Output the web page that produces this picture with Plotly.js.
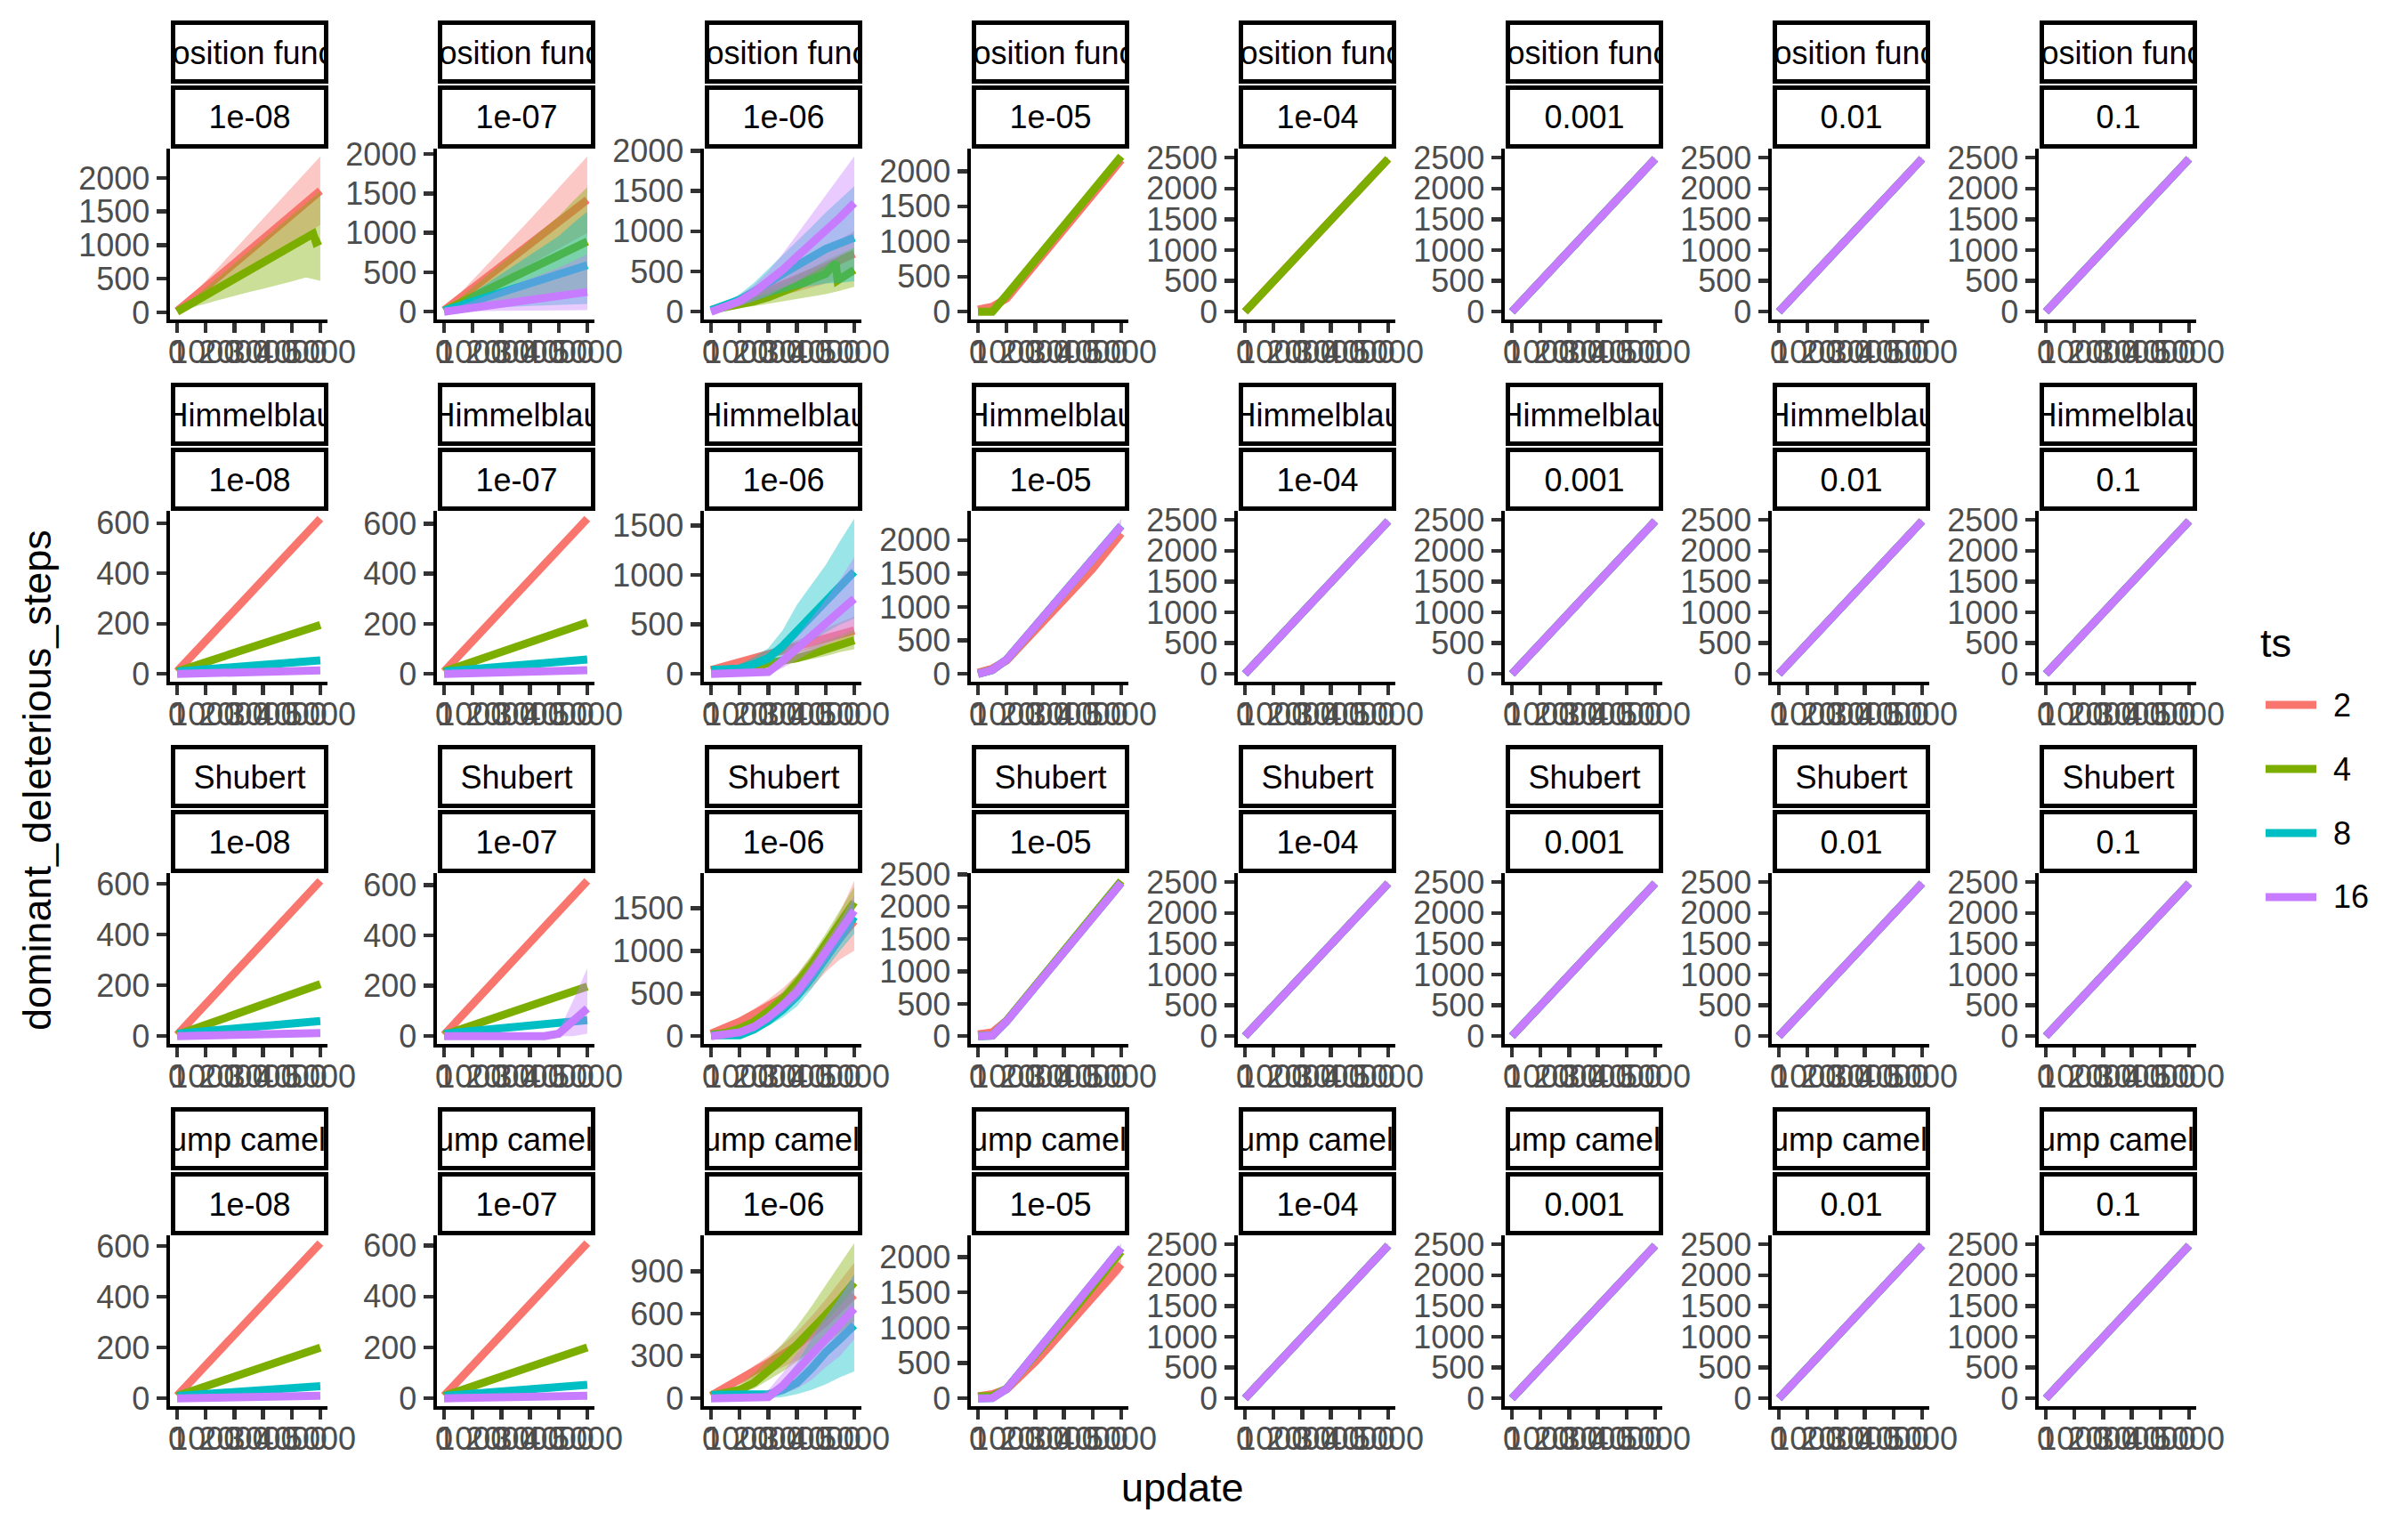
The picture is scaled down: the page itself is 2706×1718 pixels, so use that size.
<!DOCTYPE html>
<html>
<head>
<meta charset="utf-8">
<script src="https://cdn.plot.ly/plotly-3.0.1.min.js"></script>
<style>html,body{margin:0;padding:0;background:#fff}#chart{width:2706px;height:1718px}</style>
</head>
<body>
<div id="chart"></div>
<script>
// ---------------- data ----------------
const FUNCS = ['Composition function 1', 'Himmelblau', 'Shubert', 'Six-hump camel back'];
const RATES = ['1e-08', '1e-07', '1e-06', '1e-05', '1e-04', '0.001', '0.01', '0.1'];
const TS = ['2', '4', '8', '16'];
const TS_COLORS = ['#F8766D', '#7CAE00', '#00BFC4', '#C77CFF'];
const TS_FILLS = ['rgba(248,118,109,0.4)', 'rgba(124,174,0,0.4)', 'rgba(0,191,196,0.4)', 'rgba(199,124,255,0.4)'];

const updates = [0, 500, 1000, 1500, 2000, 2500, 3000, 3500, 4000, 4500, 5000];
const xTicks = [0, 1000, 2000, 3000, 4000, 5000];
const xTickText = ['0', '1000', '2000', '3000', '4000', '5000'];
const yTicks600 = [0, 200, 400, 600];
const yTicks900 = [0, 300, 600, 900];
const yTicks1500 = [0, 500, 1000, 1500];
const yTicks2000 = [0, 500, 1000, 1500, 2000];
const yTicks2500 = [0, 500, 1000, 1500, 2000, 2500];

// shared shape of the saturated (linear) panels
const steady = [0, 250, 500, 745, 990, 1240, 1485, 1730, 1980, 2230, 2480];
const steadyLo = [0, 235, 480, 725, 970, 1215, 1460, 1705, 1950, 2195, 2440];
const steadyHi = [0, 265, 520, 775, 1030, 1285, 1540, 1795, 2050, 2305, 2520];

// Composition function
const cf_e8_2 = [20, 190, 370, 550, 730, 910, 1090, 1270, 1450, 1630, 1810];
const cf_e8_2_lo = [20, 140, 270, 400, 530, 660, 790, 920, 1050, 1180, 1300];
const cf_e8_2_hi = [20, 240, 470, 700, 930, 1160, 1390, 1620, 1850, 2080, 2320];
const cf_e8_4_x = [0, 500, 1000, 1500, 2000, 2500, 3000, 3500, 4000, 4500, 4750, 4850, 5000];
const cf_e8_4 = [10, 130, 250, 370, 490, 610, 730, 850, 970, 1100, 1170, 1040, 1070];
const cf_e8_4_lo = [10, 70, 130, 190, 250, 300, 350, 400, 460, 520, 470];
const cf_e8_4_hi = [10, 190, 370, 550, 730, 900, 1080, 1260, 1440, 1620, 1800];

const cf_e7_2 = [20, 160, 300, 440, 580, 720, 860, 1000, 1140, 1280, 1420];
const cf_e7_2_lo = [20, 110, 210, 310, 410, 500, 600, 700, 800, 900, 1000];
const cf_e7_2_hi = [20, 210, 400, 590, 780, 970, 1170, 1370, 1570, 1770, 1970];
const cf_e7_4 = [15, 100, 190, 280, 370, 460, 540, 630, 720, 800, 890];
const cf_e7_4_lo = [15, 35, 60, 85, 110, 135, 160, 185, 210, 230, 250];
const cf_e7_4_hi = [15, 160, 310, 460, 610, 760, 910, 1060, 1210, 1400, 1580];
const cf_e7_8 = [15, 70, 130, 190, 240, 300, 360, 410, 470, 530, 590];
const cf_e7_8_lo = [15, 25, 35, 45, 55, 65, 75, 85, 90, 95, 100];
const cf_e7_8_hi = [15, 120, 240, 360, 480, 600, 720, 840, 960, 1120, 1270];
const cf_e7_16 = [0, 25, 50, 75, 100, 125, 150, 175, 200, 225, 250];
const cf_e7_16_lo = [0, 5, 8, 10, 12, 14, 16, 18, 20, 20, 20];
const cf_e7_16_hi = [0, 70, 140, 210, 280, 350, 420, 490, 560, 640, 730];

const cf_e6_2 = [20, 70, 130, 190, 260, 330, 400, 480, 560, 640, 720];
const cf_e6_2_lo = [20, 50, 90, 130, 170, 210, 250, 300, 350, 400, 450];
const cf_e6_2_hi = [20, 90, 170, 250, 340, 440, 540, 660, 800, 900, 1000];
const cf_e6_4_x = [0, 500, 1000, 1500, 2000, 2500, 3000, 3500, 4000, 4350, 4420, 5000];
const cf_e6_4 = [20, 50, 90, 130, 180, 240, 320, 400, 470, 610, 390, 520];
const cf_e6_4_lo = [20, 30, 50, 70, 100, 130, 160, 190, 220, 260, 310];
const cf_e6_4_hi = [20, 70, 130, 200, 280, 360, 450, 540, 640, 720, 800];
const cf_e6_8 = [20, 80, 150, 250, 370, 470, 575, 680, 780, 850, 920];
const cf_e6_8_lo = [20, 40, 80, 130, 190, 240, 290, 320, 350, 360, 380];
const cf_e6_8_hi = [20, 110, 220, 360, 530, 700, 870, 1050, 1230, 1400, 1560];
const cf_e6_16 = [0, 60, 130, 240, 370, 520, 685, 840, 1000, 1170, 1350];
const cf_e6_16_lo = [0, 30, 70, 130, 200, 290, 380, 480, 580, 690, 800];
const cf_e6_16_hi = [0, 90, 200, 330, 500, 720, 960, 1200, 1440, 1680, 1930];

const cf_e5_2 = [30, 70, 190, 430, 670, 920, 1170, 1420, 1660, 1910, 2160];
const cf_e5_4 = [0, 0, 238, 485, 730, 975, 1220, 1470, 1715, 1960, 2210];

// Himmelblau
const hb_e8_2 = [10, 70, 130, 190, 250, 310, 370, 430, 490, 555, 618];
const hb_e8_4 = [10, 28, 47, 66, 85, 104, 123, 142, 160, 178, 195];
const hb_e8_8 = [10, 15, 19, 24, 28, 33, 37, 42, 46, 50, 54];
const hb_e8_16 = [0, 1, 3, 4, 6, 7, 9, 10, 12, 13, 14];

const hb_e7_2 = [10, 70, 130, 190, 250, 310, 370, 435, 500, 560, 620];
const hb_e7_4 = [10, 30, 50, 70, 90, 110, 130, 150, 170, 188, 205];
const hb_e7_8 = [10, 15, 20, 25, 30, 35, 40, 45, 50, 54, 58];
const hb_e7_16 = [0, 1, 3, 4, 6, 7, 9, 10, 12, 13, 15];

const hb_e6_2 = [40, 80, 120, 160, 200, 240, 280, 320, 360, 400, 440];
const hb_e6_2_lo = [40, 70, 100, 130, 160, 190, 220, 250, 280, 310, 340];
const hb_e6_2_hi = [40, 90, 140, 190, 240, 290, 340, 400, 460, 520, 580];
const hb_e6_4 = [30, 35, 40, 60, 110, 130, 160, 200, 250, 300, 340];
const hb_e6_4_lo = [30, 30, 30, 40, 80, 100, 120, 150, 180, 220, 250];
const hb_e6_4_hi = [30, 40, 50, 80, 130, 170, 220, 280, 340, 390, 450];
const hb_e6_8 = [40, 45, 55, 100, 160, 282, 434, 585, 736, 882, 1034];
const hb_e6_8_lo = [40, 40, 45, 60, 100, 170, 250, 330, 420, 500, 560];
const hb_e6_8_hi = [40, 60, 100, 170, 260, 440, 700, 900, 1100, 1340, 1570];
const hb_e6_16 = [0, 0, 0, 0, 20, 130, 250, 380, 510, 635, 760];
const hb_e6_16_lo = [0, 0, 0, 0, 0, 60, 140, 220, 300, 360, 420];
const hb_e6_16_hi = [0, 0, 0, 5, 50, 200, 380, 560, 750, 950, 1180];

const hb_e5_2 = [20, 80, 200, 420, 650, 880, 1110, 1340, 1570, 1830, 2100];
const hb_e5_2_lo = [20, 60, 170, 380, 600, 820, 1050, 1270, 1500, 1740, 2000];
const hb_e5_2_hi = [20, 100, 230, 460, 700, 940, 1170, 1410, 1640, 1920, 2200];
const hb_e5_4 = [0, 60, 215, 465, 715, 965, 1215, 1460, 1710, 1960, 2210];
const hb_e5_8 = [0, 60, 215, 465, 715, 965, 1215, 1460, 1710, 1960, 2215];
const hb_e5_16 = [0, 60, 215, 465, 715, 965, 1215, 1460, 1710, 1960, 2210];
const hb_e5_16_lo = [0, 50, 200, 445, 690, 935, 1180, 1425, 1670, 1910, 2140];
const hb_e5_16_hi = [0, 70, 235, 490, 745, 1000, 1250, 1500, 1760, 2010, 2320];

// Shubert
const sh_e8_2 = [5, 66, 127, 188, 249, 310, 371, 432, 493, 553, 612];
const sh_e8_4 = [5, 25, 45, 65, 85, 105, 125, 145, 165, 185, 205];
const sh_e8_8 = [10, 15, 20, 25, 30, 35, 40, 45, 50, 55, 60];
const sh_e8_16 = [0, 1, 2, 4, 5, 6, 7, 8, 10, 11, 12];

const sh_e7_2 = [5, 66, 128, 190, 251, 313, 374, 436, 497, 557, 617];
const sh_e7_4 = [5, 25, 44, 63, 82, 101, 120, 139, 158, 178, 197];
const sh_e7_8 = [10, 15, 20, 25, 30, 35, 40, 45, 50, 57, 64];
const sh_e7_16 = [0, 0, 0, 0, 0, 0, 0, 0, 10, 55, 110];
const sh_e7_16_lo = [0, 0, 0, 0, 0, 0, 0, 0, 0, 0, 10];
const sh_e7_16_hi = [0, 0, 0, 0, 0, 0, 0, 0, 20, 140, 270];

const sh_e6_2 = [30, 90, 170, 260, 350, 450, 560, 740, 950, 1150, 1350];
const sh_e6_2_lo = [30, 70, 130, 200, 270, 350, 420, 560, 750, 900, 1000];
const sh_e6_2_hi = [30, 110, 210, 320, 430, 560, 720, 930, 1150, 1450, 1820];
const sh_e6_4 = [20, 40, 90, 170, 290, 430, 620, 830, 1080, 1330, 1570];
const sh_e6_4_lo = [20, 30, 60, 120, 220, 340, 500, 700, 950, 1180, 1400];
const sh_e6_4_hi = [20, 60, 120, 220, 360, 520, 720, 950, 1200, 1480, 1750];
const sh_e6_8 = [10, 5, 10, 80, 180, 310, 470, 680, 900, 1150, 1400];
const sh_e6_8_lo = [10, 0, 0, 40, 120, 220, 350, 550, 780, 1000, 1200];
const sh_e6_8_hi = [10, 20, 40, 120, 240, 400, 580, 800, 1050, 1330, 1600];
const sh_e6_16 = [0, 15, 45, 110, 220, 360, 520, 740, 975, 1220, 1470];
const sh_e6_16_lo = [0, 0, 20, 70, 160, 280, 420, 620, 850, 1080, 1300];
const sh_e6_16_hi = [0, 30, 70, 150, 280, 430, 620, 850, 1100, 1360, 1650];

const sh_e5_2 = [30, 60, 240, 500, 770, 1040, 1300, 1570, 1840, 2100, 2370];
const sh_e5_4 = [5, 10, 240, 505, 775, 1045, 1310, 1580, 1850, 2130, 2400];
const sh_e5_8 = [0, 10, 230, 497, 765, 1032, 1300, 1567, 1835, 2102, 2370];
const sh_e5_16 = [0, 10, 230, 497, 765, 1032, 1300, 1567, 1835, 2102, 2370];

// Six-hump camel back
const sc_e8_2 = [10, 70, 130, 190, 250, 310, 370, 430, 490, 550, 612];
const sc_e8_4 = [10, 29, 48, 67, 86, 105, 124, 143, 162, 181, 200];
const sc_e8_8 = [10, 14, 18, 22, 26, 30, 34, 38, 42, 45, 48];
const sc_e8_16 = [0, 1, 2, 3, 4, 5, 7, 8, 9, 10, 11];

const sc_e7_2 = [10, 70, 130, 190, 250, 310, 370, 430, 490, 550, 610];
const sc_e7_4 = [10, 29, 48, 67, 86, 105, 124, 143, 162, 181, 200];
const sc_e7_8 = [10, 15, 19, 24, 28, 33, 37, 42, 46, 50, 53];
const sc_e7_16 = [0, 1, 2, 3, 4, 5, 7, 8, 9, 10, 11];

const sc_e6_2 = [20, 75, 130, 185, 250, 310, 375, 450, 540, 640, 733];
const sc_e6_2_lo = [20, 60, 100, 140, 180, 220, 270, 330, 390, 450, 520];
const sc_e6_2_hi = [20, 90, 160, 230, 300, 380, 470, 580, 700, 830, 960];
const sc_e6_4 = [20, 35, 60, 110, 190, 280, 380, 480, 590, 700, 820];
const sc_e6_4_lo = [20, 25, 40, 70, 130, 190, 260, 330, 400, 470, 550];
const sc_e6_4_hi = [20, 50, 100, 180, 280, 390, 510, 650, 800, 950, 1100];
const sc_e6_8 = [25, 25, 25, 25, 30, 60, 110, 210, 326, 420, 519];
const sc_e6_8_lo = [25, 15, 10, 0, 0, 10, 30, 60, 100, 150, 190];
const sc_e6_8_hi = [25, 25, 25, 30, 50, 120, 250, 420, 570, 720, 880];
const sc_e6_16 = [0, 0, 0, 0, 10, 90, 200, 300, 410, 520, 636];
const sc_e6_16_lo = [0, 0, 0, 0, 5, 30, 70, 130, 220, 300, 420];
const sc_e6_16_hi = [0, 0, 0, 10, 60, 180, 320, 450, 580, 720, 870];

const sc_e5_2 = [30, 60, 130, 320, 520, 740, 960, 1190, 1430, 1660, 1900];
const sc_e5_2_lo = [30, 50, 110, 290, 480, 690, 900, 1120, 1350, 1570, 1790];
const sc_e5_2_hi = [30, 70, 150, 350, 560, 790, 1020, 1260, 1500, 1750, 1990];
const sc_e5_4 = [30, 35, 140, 370, 610, 850, 1090, 1330, 1580, 1830, 2080];
const sc_e5_8 = [0, 5, 135, 385, 635, 885, 1135, 1385, 1635, 1880, 2130];
const sc_e5_16 = [0, 5, 135, 385, 635, 885, 1135, 1385, 1635, 1880, 2130];
const sc_e5_16_lo = [0, 0, 120, 365, 610, 860, 1105, 1350, 1600, 1840, 2070];
const sc_e5_16_hi = [0, 10, 150, 400, 650, 900, 1150, 1400, 1660, 1920, 2200];

// ---------------- panel table ----------------
function S(t, y, lo, hi, x) { return { t: t, y: y, lo: lo, hi: hi, x: x || updates }; }
function steadyPanel(n) {
  const out = [];
  for (let t = 0; t < n; t++) out.push(t === n - 1 ? S(t, steady, steadyLo, steadyHi) : S(t, steady));
  return out;
}
const grid = [
  [
    { ticks: yTicks2000, series: [S(0, cf_e8_2, cf_e8_2_lo, cf_e8_2_hi), { t: 1, y: cf_e8_4, x: cf_e8_4_x, lo: cf_e8_4_lo, hi: cf_e8_4_hi, rx: updates }] },
    { ticks: yTicks2000, series: [S(0, cf_e7_2, cf_e7_2_lo, cf_e7_2_hi), S(1, cf_e7_4, cf_e7_4_lo, cf_e7_4_hi), S(2, cf_e7_8, cf_e7_8_lo, cf_e7_8_hi), S(3, cf_e7_16, cf_e7_16_lo, cf_e7_16_hi)] },
    { ticks: yTicks2000, series: [S(0, cf_e6_2, cf_e6_2_lo, cf_e6_2_hi), { t: 1, y: cf_e6_4, x: cf_e6_4_x, lo: cf_e6_4_lo, hi: cf_e6_4_hi, rx: updates }, S(2, cf_e6_8, cf_e6_8_lo, cf_e6_8_hi), S(3, cf_e6_16, cf_e6_16_lo, cf_e6_16_hi)] },
    { ticks: yTicks2000, series: [S(0, cf_e5_2), S(1, cf_e5_4)] },
    { ticks: yTicks2500, series: steadyPanel(2) },
    { ticks: yTicks2500, series: steadyPanel(4) },
    { ticks: yTicks2500, series: steadyPanel(4) },
    { ticks: yTicks2500, series: steadyPanel(4) }
  ],
  [
    { ticks: yTicks600, series: [S(0, hb_e8_2), S(1, hb_e8_4), S(2, hb_e8_8), S(3, hb_e8_16)] },
    { ticks: yTicks600, series: [S(0, hb_e7_2), S(1, hb_e7_4), S(2, hb_e7_8), S(3, hb_e7_16)] },
    { ticks: yTicks1500, series: [S(0, hb_e6_2, hb_e6_2_lo, hb_e6_2_hi), S(1, hb_e6_4, hb_e6_4_lo, hb_e6_4_hi), S(2, hb_e6_8, hb_e6_8_lo, hb_e6_8_hi), S(3, hb_e6_16, hb_e6_16_lo, hb_e6_16_hi)] },
    { ticks: yTicks2000, series: [S(0, hb_e5_2, hb_e5_2_lo, hb_e5_2_hi), S(1, hb_e5_4), S(2, hb_e5_8), S(3, hb_e5_16, hb_e5_16_lo, hb_e5_16_hi)] },
    { ticks: yTicks2500, series: steadyPanel(4) },
    { ticks: yTicks2500, series: steadyPanel(4) },
    { ticks: yTicks2500, series: steadyPanel(4) },
    { ticks: yTicks2500, series: steadyPanel(4) }
  ],
  [
    { ticks: yTicks600, series: [S(0, sh_e8_2), S(1, sh_e8_4), S(2, sh_e8_8), S(3, sh_e8_16)] },
    { ticks: yTicks600, series: [S(0, sh_e7_2), S(1, sh_e7_4), S(2, sh_e7_8), S(3, sh_e7_16, sh_e7_16_lo, sh_e7_16_hi)] },
    { ticks: yTicks1500, series: [S(0, sh_e6_2, sh_e6_2_lo, sh_e6_2_hi), S(1, sh_e6_4, sh_e6_4_lo, sh_e6_4_hi), S(2, sh_e6_8, sh_e6_8_lo, sh_e6_8_hi), S(3, sh_e6_16, sh_e6_16_lo, sh_e6_16_hi)] },
    { ticks: yTicks2500, series: [S(0, sh_e5_2), S(1, sh_e5_4), S(2, sh_e5_8), S(3, sh_e5_16)] },
    { ticks: yTicks2500, series: steadyPanel(4) },
    { ticks: yTicks2500, series: steadyPanel(4) },
    { ticks: yTicks2500, series: steadyPanel(4) },
    { ticks: yTicks2500, series: steadyPanel(4) }
  ],
  [
    { ticks: yTicks600, series: [S(0, sc_e8_2), S(1, sc_e8_4), S(2, sc_e8_8), S(3, sc_e8_16)] },
    { ticks: yTicks600, series: [S(0, sc_e7_2), S(1, sc_e7_4), S(2, sc_e7_8), S(3, sc_e7_16)] },
    { ticks: yTicks900, series: [S(0, sc_e6_2, sc_e6_2_lo, sc_e6_2_hi), S(1, sc_e6_4, sc_e6_4_lo, sc_e6_4_hi), S(2, sc_e6_8, sc_e6_8_lo, sc_e6_8_hi), S(3, sc_e6_16, sc_e6_16_lo, sc_e6_16_hi)] },
    { ticks: yTicks2000, series: [S(0, sc_e5_2, sc_e5_2_lo, sc_e5_2_hi), S(1, sc_e5_4), S(2, sc_e5_8), S(3, sc_e5_16, sc_e5_16_lo, sc_e5_16_hi)] },
    { ticks: yTicks2500, series: steadyPanel(4) },
    { ticks: yTicks2500, series: steadyPanel(4) },
    { ticks: yTicks2500, series: steadyPanel(4) },
    { ticks: yTicks2500, series: steadyPanel(4) }
  ]
];

// ---------------- layout geometry (pixels) ----------------
const W = 2706, H = 1718;
const FONT = 'Liberation Sans, Arial, Helvetica, sans-serif';
const COL0 = 191, COLSTEP = 300, PANEL_W = 177;
const ROW0 = 167, ROWSTEP = 407, PANEL_H = 192;
const px = p => p / W;
const py = p => 1 - p / H;

const data = [];
const layout = {
  width: W, height: H,
  margin: { l: 0, r: 0, t: 0, b: 0 },
  paper_bgcolor: '#ffffff', plot_bgcolor: 'rgba(0,0,0,0)',
  showlegend: false,
  font: { family: FONT, color: '#000000' },
  shapes: [], annotations: []
};

for (let r = 0; r < 4; r++) {
  for (let c = 0; c < 8; c++) {
    const k = r * 8 + c + 1;
    const xa = 'x' + (k === 1 ? '' : k), ya = 'y' + (k === 1 ? '' : k);
    const panel = grid[r][c];
    let lo = Infinity, hi = -Infinity;
    panel.series.forEach(s => {
      [s.y, s.lo, s.hi].forEach(arr => { if (arr) arr.forEach(v => { lo = Math.min(lo, v); hi = Math.max(hi, v); }); });
      const rx = s.rx || s.x;
      if (s.lo && s.hi) {
        data.push({
          type: 'scatter', mode: 'lines', xaxis: xa, yaxis: ya,
          x: rx.concat(rx.slice().reverse()),
          y: s.hi.concat(s.lo.slice().reverse()),
          fill: 'toself', fillcolor: TS_FILLS[s.t],
          line: { width: 0, color: 'rgba(0,0,0,0)' }, hoverinfo: 'skip'
        });
      }
      data.push({
        type: 'scatter', mode: 'lines', xaxis: xa, yaxis: ya,
        x: s.x, y: s.y, name: TS[s.t],
        line: { color: TS_COLORS[s.t], width: 9 }
      });
    });
    const pad = (hi - lo) * 0.05;
    const x0 = COL0 + c * COLSTEP, y0 = ROW0 + r * ROWSTEP;
    const axisCommon = {
      showgrid: false, zeroline: false, showline: true, linecolor: '#000000', linewidth: 4.4,
      ticks: 'outside', ticklen: 11, tickwidth: 4.4, tickcolor: '#333333',
      tickfont: { family: FONT, size: 36, color: '#4D4D4D' }, tickangle: 0, fixedrange: true
    };
    layout['xaxis' + (k === 1 ? '' : k)] = Object.assign({}, axisCommon, {
      domain: [px(x0), px(x0 + PANEL_W)], anchor: ya,
      range: [-250, 5250], tickmode: 'array', tickvals: xTicks, ticktext: xTickText,
      ticklabelstandoff: -10
    });
    layout['yaxis' + (k === 1 ? '' : k)] = Object.assign({}, axisCommon, {
      domain: [py(y0 + PANEL_H), py(y0)], anchor: xa,
      range: [lo - pad, hi + pad], tickmode: 'array', tickvals: panel.ticks, ticktext: panel.ticks.map(String),
      ticklabelstandoff: 0
    });
    // strips
    const sx0 = x0 + 1, sx1 = x0 + PANEL_W + 1;
    const stripTop = 23 + r * ROWSTEP;
    const boxes = [[stripTop, stripTop + 71], [stripTop + 73, stripTop + 144]];
    const labels = [FUNCS[r], RATES[c]];
    boxes.forEach((b, i) => {
      layout.shapes.push({
        type: 'rect', xref: 'paper', yref: 'paper', layer: 'above',
        x0: px(sx0 + 2.5), x1: px(sx1 - 2.5), y0: py(b[1] - 2.5), y1: py(b[0] + 2.5),
        line: { color: '#000000', width: 5 }, fillcolor: '#ffffff'
      });
      layout.annotations.push({
        xref: 'paper', yref: 'paper', x: px((sx0 + sx1) / 2), y: py((b[0] + b[1]) / 2),
        xanchor: 'center', yanchor: 'middle', showarrow: false, align: 'center',
        width: sx1 - sx0 - 8, height: 60,
        text: labels[i], font: { family: FONT, size: 36, color: '#000000' }
      });
    });
  }
}

// axis titles
layout.annotations.push({
  xref: 'paper', yref: 'paper', x: px(1329), y: py(1671), xanchor: 'center', yanchor: 'middle',
  showarrow: false, text: 'update', font: { family: FONT, size: 45, color: '#000000' }
});
layout.annotations.push({
  xref: 'paper', yref: 'paper', x: px(41), y: py(877), xanchor: 'center', yanchor: 'middle',
  showarrow: false, textangle: -90, text: 'dominant_deleterious_steps', font: { family: FONT, size: 45, color: '#000000' }
});

// legend (manual, ggplot-style)
layout.annotations.push({
  xref: 'paper', yref: 'paper', x: px(2538), y: py(723), xanchor: 'left', yanchor: 'middle',
  showarrow: false, text: 'ts', font: { family: FONT, size: 45, color: '#000000' }
});
TS.forEach((t, i) => {
  const ly = 792 + i * 72;
  layout.shapes.push({
    type: 'line', xref: 'paper', yref: 'paper', x0: px(2546), x1: px(2603), y0: py(ly), y1: py(ly),
    line: { color: TS_COLORS[i], width: 9 }
  });
  layout.annotations.push({
    xref: 'paper', yref: 'paper', x: px(2620), y: py(ly), xanchor: 'left', yanchor: 'middle',
    showarrow: false, text: t, font: { family: FONT, size: 36, color: '#000000' }
  });
});

Plotly.newPlot('chart', data, layout, { staticPlot: true, displayModeBar: false });
</script>
</body>
</html>
